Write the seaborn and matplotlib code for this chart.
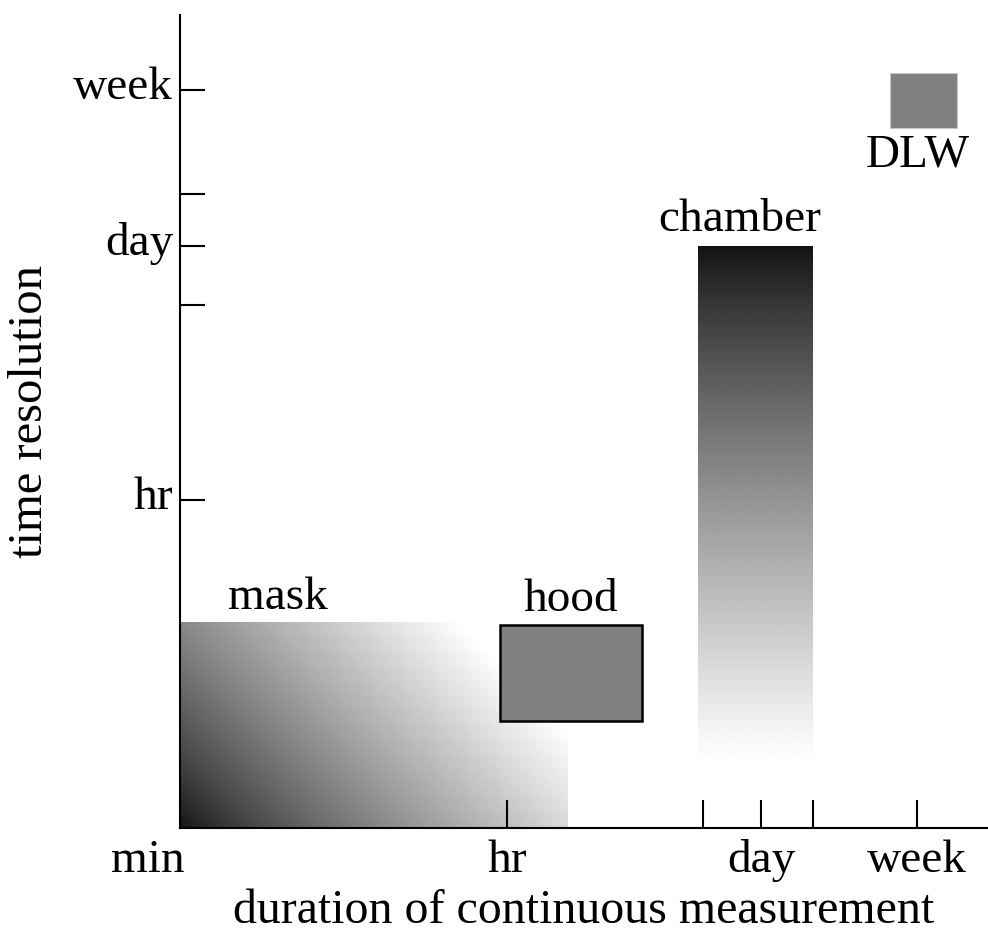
import numpy as np
import matplotlib
matplotlib.use("Agg")
import matplotlib.pyplot as plt
import matplotlib.transforms as mtransforms
import seaborn as sns

# ---- data (all values in minutes) ----
x_major_ticks = [60, 1440, 10080]          # hr, day, week
x_major_labels = ["hr", "day", "week"]
y_major_ticks = [60, 1440, 10080]
y_major_labels = ["hr", "day", "week"]
minor_ticks = [690, 2750]                   # unlabeled ticks
origin_label = "min"

methods = ["mask", "hood", "chamber", "DLW"]
dur_lo = [1, 55, 653, 7230]
dur_hi = [127, 324, 2722, 16700]
res_lo = [1, 3.8, 2.34, 6250]
res_hi = [13.1, 12.6, 1432, 12420]

x_max = 10 ** 4.39
y_max = 10 ** 4.41

sns.set_theme(style="white")
plt.rcParams["font.family"] = ["Liberation Serif", "DejaVu Serif"]
for k in ["text.color", "axes.labelcolor", "xtick.color", "ytick.color"]:
    plt.rcParams[k] = "black"
FS = 34

fig = plt.figure(figsize=(9.88, 9.35), dpi=100)
ax = fig.add_axes([180 / 988, 1 - 828 / 935, 808 / 988, 813 / 935])
ax.set_axisbelow(False)
L = np.log10

# mask: diagonal gradient
nx, ny = 400, 220
u = np.linspace(0, 1, nx)[None, :]
w = np.linspace(0, 1, ny)[:, None]
s = np.clip(0.80 * u + 0.42 * w, 0, 1)
mask_img = 0.07 + 0.93 * s ** 0.8
ax.imshow(mask_img, cmap="gray", vmin=0, vmax=1, origin="lower", aspect="auto",
          extent=[L(dur_lo[0]), L(dur_hi[0]), L(res_lo[0]), L(res_hi[0])],
          interpolation="bilinear", zorder=1)

# chamber: vertical gradient (dark at top)
wc = np.linspace(0, 1, 300)[:, None] * np.ones((1, 10))
t = 1 - wc
ch_img = 0.07 + 0.93 * t ** 0.85
ax.imshow(ch_img, cmap="gray", vmin=0, vmax=1, origin="lower", aspect="auto",
          extent=[L(dur_lo[2]), L(dur_hi[2]), L(res_lo[2]), L(res_hi[2])],
          interpolation="bilinear", zorder=1)

# hood: gray box with black border
ax.add_patch(plt.Rectangle((L(dur_lo[1]), L(res_lo[1])), L(dur_hi[1]) - L(dur_lo[1]),
                           L(res_hi[1]) - L(res_lo[1]), facecolor="#808080",
                           edgecolor="black", linewidth=1.8, zorder=2))
# DLW: gray box, faint border
ax.add_patch(plt.Rectangle((L(dur_lo[3]), L(res_lo[3])), L(dur_hi[3]) - L(dur_lo[3]),
                           L(res_hi[3]) - L(res_lo[3]), facecolor="#808080",
                           edgecolor="#c8c8c8", linewidth=0.8, zorder=2))

# labels of methods
ax.text(L(3.4), L(17.7), methods[0], fontsize=FS, ha="center", va="center", color="black")
ax.text(L(133), L(17.2), methods[1], fontsize=FS, ha="center", va="center", color="black")
ax.text(L(1105), L(1983), methods[2], fontsize=FS, ha="center", va="center", color="black")
ax.text(L(10250), L(4466), methods[3], fontsize=FS, ha="center", va="center", color="black")

ax.set_xlim(0, L(x_max))
ax.set_ylim(0, L(y_max))

ax.set_xticks([L(v) for v in x_major_ticks])
ax.set_xticklabels(x_major_labels, fontsize=FS)
ax.set_yticks([L(v) for v in y_major_ticks])
ax.set_yticklabels(y_major_labels, fontsize=FS)
ax.set_xticks([L(v) for v in minor_ticks], minor=True)
ax.set_yticks([L(v) for v in minor_ticks], minor=True)

ax.tick_params(axis="x", which="both", direction="in", length=20, width=1.5,
               color="black", pad=8, bottom=True)
ax.tick_params(axis="y", which="both", direction="in", length=18, width=1.5,
               color="black", pad=5, left=True)
shift = mtransforms.ScaledTranslation(0, 5 / 72, fig.dpi_scale_trans)
for lab in ax.get_yticklabels():
    lab.set_color("black")
    lab.set_transform(lab.get_transform() + shift)
for lab in ax.get_xticklabels():
    lab.set_color("black")

ax.annotate(origin_label, xy=(0, 0), xycoords="data", xytext=(-32, -11),
            textcoords="offset pixels", ha="center", va="top", fontsize=FS, color="black")

sns.despine(ax=ax)
for sp in ["left", "bottom"]:
    ax.spines[sp].set_color("black")
    ax.spines[sp].set_linewidth(1.5)
    ax.spines[sp].set_zorder(5)

ax.set_xlabel("duration of continuous measurement", fontsize=34.5, color="black", labelpad=5)
ax.set_ylabel("time resolution", fontsize=35, color="black")
ax.yaxis.set_label_coords(-0.158, 0.512)
ax.patch.set_alpha(0)

fig.savefig("out.png", dpi=100, facecolor="white")
